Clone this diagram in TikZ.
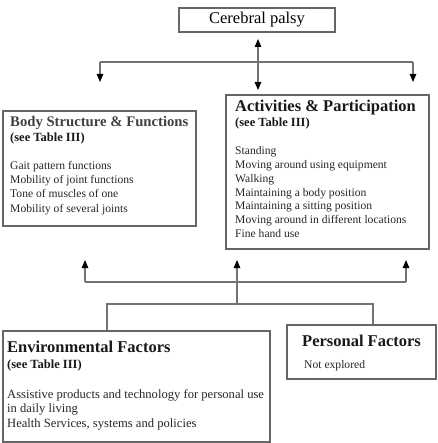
\documentclass[tikz,border=0pt]{standalone}
\usepackage{fontspec}
\setmainfont{Liberation Serif}
\usetikzlibrary{arrows.meta,positioning}
\tikzset{
  box/.style={draw=black!60, line width=1.1pt, inner sep=0pt},
  link/.style={draw=black!55, line width=1.1pt},
  tip/.style={-{Triangle[length=8pt,width=6.5pt,color=black,fill=black]}},
  twotip/.style={{Triangle[length=8pt,width=6.5pt,color=black,fill=black]}-{Triangle[length=8pt,width=6.5pt,color=black,fill=black]}},
  head/.style={font=\fontsize{16.5}{18}\selectfont\bfseries, anchor=base west, inner sep=0pt, text=black!90},
  ref/.style={font=\fontsize{12.5}{14}\selectfont\bfseries, anchor=base west, inner sep=0pt, text=black!90},
  item/.style={font=\fontsize{11.6}{14}\selectfont, anchor=base west, inner sep=0pt, text=black!85},
}
\begin{document}
\begin{tikzpicture}[x=1pt, y=-1pt]
  \useasboundingbox (0,0) rectangle (437,443);

  % boxes
  \node[box, minimum width=156, minimum height=24, font=\fontsize{16.5}{18}\selectfont] (cp) at (257,20) {Cerebral palsy};
  \node[box, minimum width=193, minimum height=115] (body) at (99.5,168.5) {};
  \node[box, minimum width=203, minimum height=154] (act) at (327.5,172) {};
  \node[box, minimum width=267, minimum height=111] (env) at (136.5,386.5) {};
  \node[box, minimum width=149, minimum height=54] (pers) at (361.5,352) {};

  % body structure
  \node[head, font=\fontsize{14.7}{17}\selectfont\bfseries, text=black!75] (bodyh) at (10,127) {Body Structure \& Functions};
  \node[ref] (bodyr) at (10,142) {(see Table III)};
  \foreach \t [count=\i] in {Gait pattern functions, Mobility of joint functions,
      Tone of muscles of one, Mobility of several joints}
    \node[item] (bodyi\i) at (10,156+14*\i) {\t};

  % activities
  \node[head] (acth) at (235,112) {Activities \& Participation};
  \node[ref] (actr) at (235,127) {(see Table III)};
  \foreach \t [count=\i] in {Standing, Moving around using equipment, Walking,
      Maintaining a body position, Maintaining a sitting position,
      Moving around in different locations, Fine hand use}
    \node[item] (acti\i) at (235,141.3+13.7*\i) {\t};

  % environmental
  \node[head] (envh) at (7,352) {Environmental Factors};
  \node[ref] (envr) at (7,368) {(see Table III)};
  \foreach \t [count=\i] in {Assistive products and technology for personal use,
      in daily living, {Health Services, systems and policies}}
    \node[item, font=\fontsize{12.6}{15}\selectfont] (envi\i) at (7,383.5+14.5*\i) {\t};

  % personal
  \node[head] (persh) at (302,346) {Personal Factors};
  \node[item] (persi) at (304,368) {Not explored};

  % top connectors
  \coordinate (tl) at (100,62);
  \coordinate (tr) at (413,62);
  \coordinate (ca) at (258,39);
  \coordinate (cb) at (258,90);
  \draw[link] (tl) -- (tr);
  \draw[link, tip] (tl) -- (100,82);
  \draw[link, tip] (tr) -- (413,82);
  \draw[link, twotip] (ca) -- (cb);

  % bottom connectors
  \coordinate (ul) at (85,282);
  \coordinate (ur) at (406,282);
  \coordinate (um) at (237,304);
  \coordinate (fl) at (107,304);
  \coordinate (fr) at (373,304);
  \draw[link] (ul) -- (ur);
  \draw[link, tip] (ul) -- (85,260);
  \draw[link, tip] (ur) -- (406,260);
  \draw[link, tip] (um) -- (237,260);
  \draw[link] (env.north -| fl) -- (fl) -- (fr) -- (pers.north -| fr);
\end{tikzpicture}
\end{document}
